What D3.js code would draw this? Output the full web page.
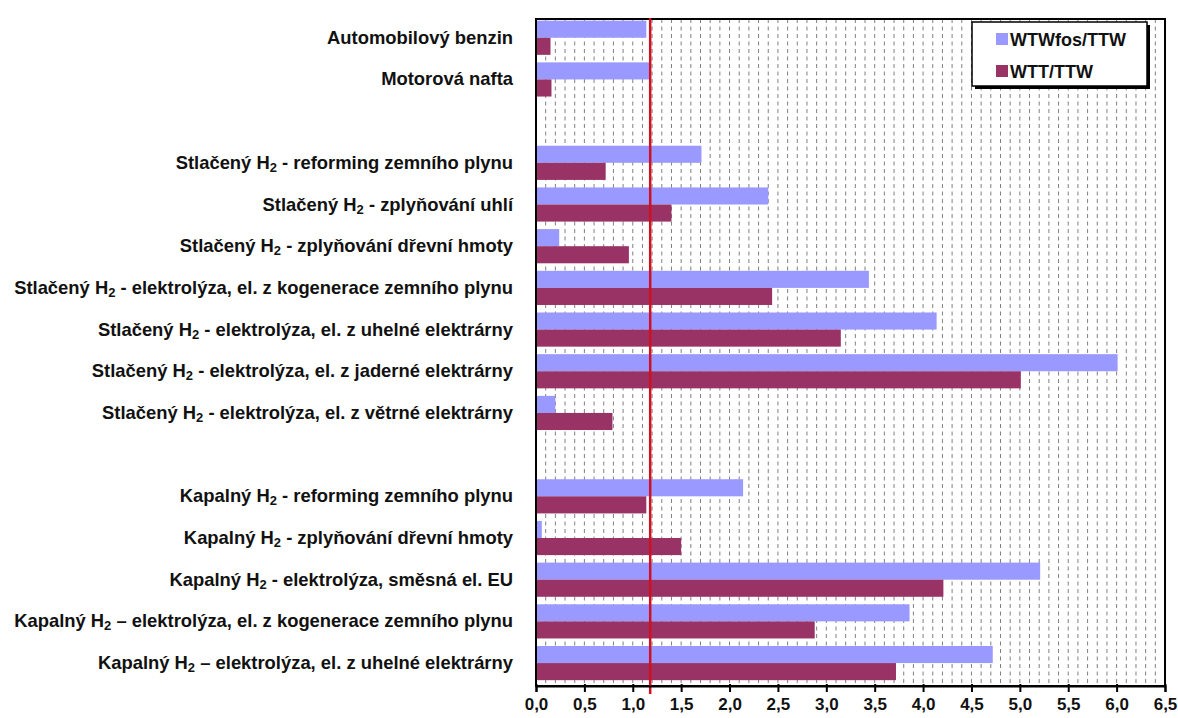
<!DOCTYPE html>
<html>
<head>
<meta charset="utf-8">
<script src="https://cdn.jsdelivr.net/npm/d3@7"></script>
<style>
  html, body { margin: 0; padding: 0; background: #fff; }
  svg { display: block; font-family: "Liberation Sans", Arial, sans-serif; }
  .x-axis text { font-size: 17px; font-weight: bold; fill: #111; font-family: "Liberation Sans", Arial, sans-serif; }
</style>
</head>
<body>
<svg id="chart" width="1178" height="718"></svg>
<script>
// Row labels (empty strings are spacer rows between groups)
const categories = [
  "Automobilový benzin",
  "Motorová nafta",
  "",
  "Stlačený H2 - reforming zemního plynu",
  "Stlačený H2 - zplyňování uhlí",
  "Stlačený H2 - zplyňování dřevní hmoty",
  "Stlačený H2 - elektrolýza, el. z kogenerace zemního plynu",
  "Stlačený H2 - elektrolýza, el. z uhelné elektrárny",
  "Stlačený H2 - elektrolýza, el. z jaderné elektrárny",
  "Stlačený H2 - elektrolýza, el. z větrné elektrárny",
  "",
  "Kapalný H2 - reforming zemního plynu",
  "Kapalný H2 - zplyňování dřevní hmoty",
  "Kapalný H2 - elektrolýza, směsná el. EU",
  "Kapalný H2 – elektrolýza, el. z kogenerace zemního plynu",
  "Kapalný H2 – elektrolýza, el. z uhelné elektrárny"
];

// WTWfos/TTW
const wtwFosTtw = [1.14, 1.18, null, 1.71, 2.40, 0.24, 3.44, 4.14, 6.01, 0.20, null, 2.14, 0.06, 5.21, 3.86, 4.72];
// WTT/TTW
const wttTtw    = [0.15, 0.16, null, 0.72, 1.40, 0.96, 2.44, 3.15, 5.01, 0.79, null, 1.14, 1.50, 4.21, 2.88, 3.72];

const seriesNames = ["WTWfos/TTW", "WTT/TTW"];
const seriesColors = ["#9999ff", "#993366"];

// Reference value marked by the vertical red line
const referenceValue = [1.18];

const xTicks = [0, 0.5, 1, 1.5, 2, 2.5, 3, 3.5, 4, 4.5, 5, 5.5, 6, 6.5];
const xMax = 6.5;

const W = 1178, H = 718;
const margin = { top: 19, right: 13, bottom: 32, left: 536 };

const svg = d3.select("#chart");

const x = d3.scaleLinear().domain([0, xMax]).range([margin.left, W - margin.right]);
const y = d3.scaleBand()
  .domain(d3.range(categories.length))
  .range([margin.top, H - margin.bottom])
  .paddingInner(0)
  .paddingOuter(0);

const groupH = y.bandwidth() * 0.82;
const groupOffset = y.bandwidth() * 0.04;
const barH = groupH / 2;

// Dashed vertical grid every 0.1
const gridVals = d3.range(1, Math.round(xMax * 10)).map(d => d / 10);
svg.append("g")
  .selectAll("line")
  .data(gridVals)
  .join("line")
  .attr("x1", d => x(d)).attr("x2", d => x(d))
  .attr("y1", margin.top).attr("y2", H - margin.bottom)
  .attr("stroke", "#808080")
  .attr("stroke-width", 1)
  .attr("stroke-dasharray", "4,3.5");

// Bars
const rows = categories.map((c, i) => ({ i, c, v: [wtwFosTtw[i], wttTtw[i]] }));
const barG = svg.append("g");
rows.filter(r => r.c !== "").forEach(r => {
  r.v.forEach((v, s) => {
    barG.append("rect")
      .attr("x", x(0))
      .attr("y", y(r.i) + groupOffset + s * barH)
      .attr("width", x(v) - x(0))
      .attr("height", barH)
      .attr("fill", seriesColors[s]);
  });
});

// Plot frame
svg.append("rect")
  .attr("x", x(0)).attr("y", margin.top)
  .attr("width", x(xMax) - x(0))
  .attr("height", H - margin.bottom - margin.top)
  .attr("fill", "none")
  .attr("stroke", "#000")
  .attr("stroke-width", 2);

// Reference line
svg.append("g")
  .selectAll("line")
  .data(referenceValue)
  .join("line")
  .attr("x1", d => x(d)).attr("x2", d => x(d))
  .attr("y1", margin.top - 1)
  .attr("y2", H - margin.bottom + 8)
  .attr("stroke", "#d01020")
  .attr("stroke-width", 2.5);

// X axis
const xAxis = d3.axisBottom(x)
  .tickValues(xTicks)
  .tickSize(6)
  .tickPadding(6)
  .tickFormat(d => d3.format(".1f")(d).replace(".", ","));
const axG = svg.append("g")
  .attr("class", "x-axis")
  .attr("transform", `translate(0,${H - margin.bottom})`)
  .call(xAxis);
axG.attr("font-size", 17).attr("font-family", null);
axG.select(".domain").attr("stroke", "#000").attr("stroke-width", 2);
axG.selectAll(".tick line").attr("stroke", "#000").attr("stroke-width", 2).attr("y1", -2);

// Category labels with subscript 2 in "H2"
const labG = svg.append("g");
rows.filter(r => r.c !== "").forEach(r => {
  const t = labG.append("text")
    .attr("x", margin.left - 23)
    .attr("y", y(r.i) + groupOffset + groupH / 2 + 6)
    .attr("text-anchor", "end")
    .style("font-size", "18.4px")
    .style("font-weight", "bold")
    .attr("fill", "#111");
  const k = r.c.indexOf("H2");
  if (k < 0) {
    t.text(r.c);
  } else {
    t.append("tspan").text(r.c.slice(0, k + 1));
    t.append("tspan").style("font-size", "13px").attr("dy", 3).text("2");
    t.append("tspan").attr("dy", -3).text(r.c.slice(k + 2));
  }
});

// Legend
const lg = svg.append("g");
const lx = 972, ly = 22, lw = 175, lh = 64;
lg.append("rect").attr("x", lx + 3).attr("y", ly + 3).attr("width", lw).attr("height", lh).attr("fill", "#000");
lg.append("rect").attr("x", lx).attr("y", ly).attr("width", lw).attr("height", lh)
  .attr("fill", "#fff").attr("stroke", "#000").attr("stroke-width", 1.5);
seriesNames.forEach((n, s) => {
  const cy = ly + 17 + s * 32;
  lg.append("rect").attr("x", lx + 24).attr("y", cy - 6).attr("width", 12).attr("height", 12)
    .attr("fill", seriesColors[s]);
  lg.append("text").attr("x", lx + 38).attr("y", cy + 6.5)
    .style("font-size", "18px").style("font-weight", "bold").attr("fill", "#111").text(n);
});
</script>
</body>
</html>
